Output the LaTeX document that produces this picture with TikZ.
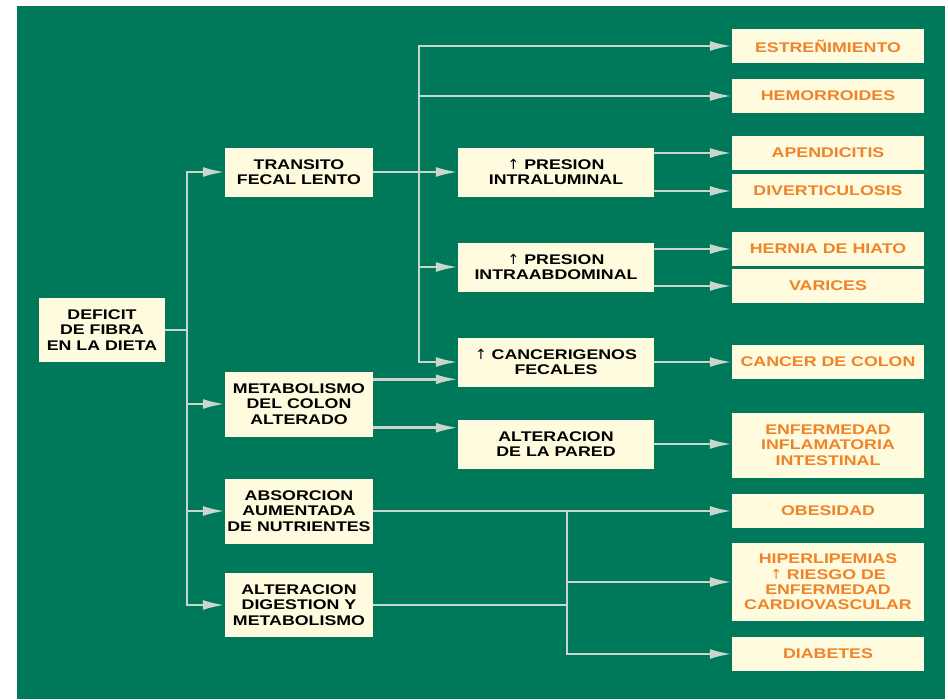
\documentclass[tikz,border=0pt]{standalone}
\usepackage{fontspec}
\setmainfont[FakeStretch=1.27]{Liberation Sans}
\newfontfamily\flechas{DejaVu Sans}
\usetikzlibrary{arrows.meta, positioning}
\definecolor{verde}{RGB}{0,120,90}
\definecolor{crema}{RGB}{255,251,222}
\definecolor{linea}{RGB}{200,214,204}
\definecolor{naranja}{RGB}{240,130,40}
\newcommand{\sube}{{\flechas\mdseries ↑}}

\begin{document}
\begin{tikzpicture}[x=1pt, y=-1pt,
    caja/.style={rectangle, fill=crema, inner sep=0pt, align=center, font=\bfseries\fontsize{14}{15.3}\selectfont},
    causa/.style={caja, text=black, minimum width=148pt},
    mecanismo/.style={caja, text=black, minimum width=196pt, minimum height=49pt},
    efecto/.style={caja, text=naranja, minimum width=192pt, minimum height=34pt},
    flecha/.style={draw=linea, line width=2.5pt},
    >={Latex[length=22pt, width=10pt]}]
			\fill[white] (0,0) rectangle (948,699);
			\fill[verde] (17,6) rectangle (945,699);
			
			\node (deficit) [caja, minimum width=126pt, minimum height=64pt] at (102,330) {DEFICIT\\DE FIBRA\\EN LA DIETA};
			\node (transito) [causa, minimum height=49pt] at (299,172) {TRANSITO\\FECAL LENTO};
			\node (metabolismo) [causa, minimum height=65pt] at (299,404) {METABOLISMO\\DEL COLON\\ALTERADO};
			\node (absorcion) [causa, minimum height=65pt] at (299,511) {ABSORCION\\AUMENTADA\\DE NUTRIENTES};
			\node (digestion) [causa, minimum height=64pt] at (299,605) {ALTERACION\\DIGESTION Y\\METABOLISMO};
			
			\node (intraluminal) [mecanismo] at (556,172) {\sube{} PRESION\\INTRALUMINAL};
			\node (intraabdominal) [mecanismo] at (556,267) {\sube{} PRESION\\INTRAABDOMINAL};
			\node (cancerigenos) [mecanismo] at (556,362) {\sube{} CANCERIGENOS\\FECALES};
			\node (pared) [mecanismo] at (556,444) {ALTERACION\\DE LA PARED};
			
			\node (estrenimiento) [efecto] at (828,46) {ESTREÑIMIENTO};
			\node (hemorroides) [efecto] at (828,96) {HEMORROIDES};
			\node (apendicitis) [efecto] at (828,153) {APENDICITIS};
			\node (diverticulosis) [efecto] at (828,191) {DIVERTICULOSIS};
			\node (hernia) [efecto] at (828,249) {HERNIA DE HIATO};
			\node (varices) [efecto] at (828,286) {VARICES};
			\node (colon) [efecto] at (828,362) {CANCER DE COLON};
			\node (eii) [efecto, minimum height=65pt] at (828,445) {ENFERMEDAD\\INFLAMATORIA\\INTESTINAL};
			\node (obesidad) [efecto] at (828,511) {OBESIDAD};
			\node (hiperlipemias) [efecto, minimum height=78pt] at (828,582) {HIPERLIPEMIAS\\\sube{} RIESGO DE\\ENFERMEDAD\\CARDIOVASCULAR};
			\node (diabetes) [efecto] at (828,654) {DIABETES};
			
			\coordinate (t1) at (187,330);
			\coordinate (t2) at (419,172);
			\coordinate (t3) at (567,511);
			
			\path[flecha] (deficit.east) -- (t1)
			(digestion.east) -- (digestion.east -| t3);
			\path[flecha, ->] (t1) |- (transito);
			\path[flecha, ->] (t1) |- (metabolismo);
			\path[flecha, ->] (t1) |- (absorcion);
			\path[flecha, ->] (t1) |- (digestion);
			\path[flecha, ->] (transito) -- (intraluminal);
			\path[flecha, ->] (t2) |- (estrenimiento);
			\path[flecha, ->] (t2) |- (hemorroides);
			\path[flecha, ->] (t2) |- (intraabdominal);
			\path[flecha, ->] (t2) |- (cancerigenos);
			\path[flecha, ->] (intraluminal.east |- apendicitis) -- (apendicitis);
			\path[flecha, ->] (intraluminal.east |- diverticulosis) -- (diverticulosis);
			\path[flecha, ->] (intraabdominal.east |- hernia) -- (hernia);
			\path[flecha, ->] (intraabdominal.east |- varices) -- (varices);
			\path[flecha, ->] (cancerigenos) -- (colon);
			\path[flecha, ->] ([yshift=-8pt]metabolismo.north east) -- ([yshift=-8pt]metabolismo.north east -| cancerigenos.west);
			\path[flecha, ->] ([yshift=9pt]metabolismo.south east) -- ([yshift=9pt]metabolismo.south east -| pared.west);
			\path[flecha, ->] (pared.east) -- (pared.east -| eii.west);
			\path[flecha, ->] (absorcion) -- (obesidad);
			\path[flecha, ->] (t3) |- (hiperlipemias);
			\path[flecha, ->] (t3) |- (diabetes);
		\end{tikzpicture}
\end{document}
